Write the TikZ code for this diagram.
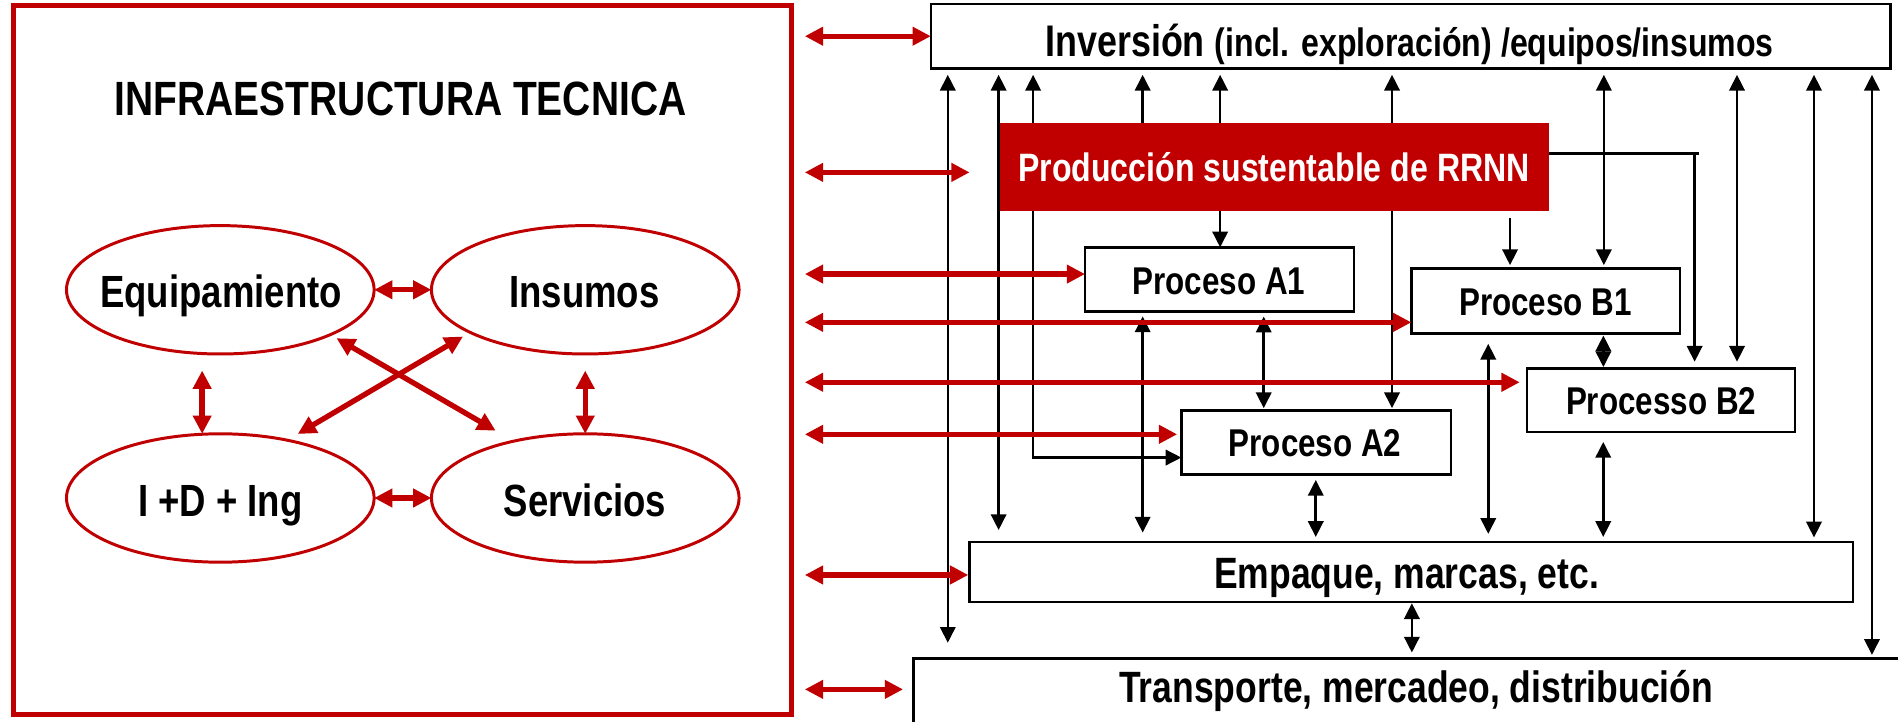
\documentclass[tikz,border=0pt]{standalone}
\usepackage{fontspec}
\setmainfont{Liberation Sans}
\newfontfamily\narrowf[FakeStretch=0.81]{Liberation Sans}
\usetikzlibrary{arrows.meta,shapes.geometric,fit,calc}
\definecolor{dred}{RGB}{192,0,0}
\pgfdeclarelayer{bg}
\pgfsetlayers{bg,main}
\begin{document}
\begin{tikzpicture}[x=0.01cm,y=-0.01cm,
  every node/.style={outer sep=0pt},
  rbox/.style={draw=black,line width=0.6pt,fill=white,inner sep=0pt,rectangle},
  ell/.style={draw=dred,line width=0.7pt,ellipse,minimum width=2.54cm,minimum height=1.06cm,inner sep=0pt,fill=white},
  rarr/.style={draw=dred,line width=1.25pt,{Triangle[length=4.3pt,width=4.2pt]}-{Triangle[length=4.3pt,width=4.2pt]}},
  barr/.style={draw=black,line width=0.6pt,{Triangle[length=3.7pt,width=3.6pt]}-{Triangle[length=3.7pt,width=3.6pt]}},
  sarr/.style={draw=black,line width=0.6pt,-{Triangle[length=3.7pt,width=3.6pt]}},
  bline/.style={draw=black,line width=0.6pt},
  tTitle/.style={anchor=base,inner sep=0pt,font=\narrowf\bfseries\fontsize{11.3}{13}\selectfont},
  tEll/.style={anchor=base,inner sep=0pt,font=\narrowf\bfseries\fontsize{10.6}{12}\selectfont},
  tInv/.style={anchor=base,inner sep=0pt,font=\narrowf\bfseries\fontsize{10.4}{12}\selectfont},
  tProd/.style={anchor=base,inner sep=0pt,text=white,font=\narrowf\bfseries\fontsize{9.3}{11}\selectfont},
  tProc/.style={anchor=base,inner sep=0pt,font=\narrowf\bfseries\fontsize{9.1}{11}\selectfont},
  tWide/.style={anchor=base,inner sep=0pt,font=\narrowf\bfseries\fontsize{10.3}{12}\selectfont}
]
\useasboundingbox (0,0) rectangle (1568,596);
\clip (0,0) rectangle (1568,596);

% ---------- left panel ----------
\node[draw=dred,line width=1.2pt,inner sep=0pt,fit={(11.5,4.5) (654,590)}] (lbox) {};
\node[ell] (eq) at (182,239.4) {};
\node[ell] (ins) at (483.5,239.4) {};
\node[ell] (id) at (182,411.4) {};
\node[ell] (serv) at (483.5,411.4) {};

\node[tTitle] (ttl) at (331,95) {INFRAESTRUCTURA TECNICA};
\node[tEll] (teq) at (182.6,254.2) {Equipamiento};
\node[tEll] (tins) at (482.8,254.2) {Insumos};
\node[tEll] (tid) at (182,426.8) {I +D + Ing};
\node[tEll] (tserv) at (483.3,426.8) {Servicios};

% ---------- right boxes ----------
\node[rbox, fit={(769,3.3) (1562,56.5)}] (inv) {};
\node[fill=dred, inner sep=0pt, fit={(826,101.3) (1280,174)}] (prod) {};
\node[rbox, fit={(896.4,204.3) (1118.5,257.5)}] (a1) {};
\node[rbox, fit={(1166,222) (1388,275.4)}] (b1) {};
\node[rbox, fit={(1261.5,304.3) (1483,357)}] (b2) {};
\node[rbox, fit={(976,339.3) (1198.7,391.9)}] (a2) {};
\node[rbox, fit={(801,447.7) (1531,497.3)}] (emp) {};
\node[rbox, fit={(754.5,544) (1620,660)}] (trans) {};

\node[tInv] (tinv) at (1164.5,46.8) {Inversión {\fontsize{9.3}{11}\selectfont (incl. exploración) /equipos/insumos}};
\node[tProd] (tprod) at (1052.5,150.1) {Producción sustentable de RRNN};
\node[tProc] (ta1) at (1007,243.2) {Proceso A1};
\node[tProc] (tb1) at (1276.8,261) {Proceso B1};
\node[tProc] (tb2) at (1372.3,342.8) {Processo B2};
\node[tProc] (ta2) at (1086.4,377) {Proceso A2};
\node[tWide] (temp) at (1162,486) {Empaque, marcas, etc.};
\node[tWide] (ttrans) at (1170,580) {Transporte, mercadeo, distribución};

% ---------- black connectors (behind boxes) ----------
\coordinate (a2in) at (976,378);
\coordinate (elb) at (1400,127);
\begin{pgfonlayer}{bg}
\draw[barr, shorten <=1.5pt, shorten >=3.7pt] (783,0 |- inv.south) -- (783,0 |- trans.north);
\draw[barr, shorten <=1.5pt, shorten >=2.8pt] (825,0 |- inv.south) -- (825,0 |- emp.north);
\draw[barr, shorten <=1.5pt] (853.5,0 |- inv.south) |- (a2in);
\draw[sarr, shorten >=1.5pt] (944,0 |- prod.north) -- (944,0 |- inv.south);
\draw[barr, shorten <=1.1pt, shorten >=2.2pt] (944,0 |- a1.south) -- (944,0 |- emp.north);
\draw[barr, shorten <=1.5pt] (1008,0 |- inv.south) -- (1008,0 |- a1.north);
\draw[barr, shorten <=1.15pt, shorten >=0.6pt] (1044,0 |- a1.south) -- (1044,0 |- a2.north);
\draw[barr, shorten <=1.5pt, shorten >=0.6pt] (1150,0 |- inv.south) -- (1150,0 |- a2.north);
\draw[sarr, shorten <=1.7pt, shorten >=0.85pt] (1247.5,0 |- prod.south) -- (1247.5,0 |- b1.north);
\draw[barr, shorten <=1.5pt, shorten >=0.85pt] (1325,0 |- inv.south) -- (1325,0 |- b1.north);
\draw[bline] (prod.east |- elb) -- ([xshift=1.1pt]elb);
\draw[sarr, shorten >=1.56pt] (elb) -- (elb |- b2.north);
\draw[barr, shorten <=1.5pt, shorten >=1.56pt] (1435,0 |- inv.south) -- (1435,0 |- b2.north);
\draw[barr, shorten <=1.5pt, shorten >=1.05pt] (1498.6,0 |- inv.south) -- (1498.6,0 |- emp.north);
\draw[barr, shorten <=1.5pt, shorten >=0.85pt] (1546.5,0 |- inv.south) -- (1546.5,0 |- trans.north);
\draw[barr, shorten <=2.45pt, shorten >=1.9pt] (1229.5,0 |- b1.south) -- (1229.5,0 |- emp.north);
\draw[barr, shorten <=0.5pt, shorten >=0.3pt] (1324.6,0 |- b1.south) -- (1324.6,0 |- b2.north);
\draw[barr, shorten <=2.3pt, shorten >=1.17pt] (1324.5,0 |- b2.south) -- (1324.5,0 |- emp.north);
\draw[barr, shorten <=1.3pt, shorten >=1.17pt] (1087,0 |- a2.south) -- (1087,0 |- emp.north);
\draw[barr, shorten <=0.3pt, shorten >=1.4pt] (1166.4,0 |- emp.south) -- (1166.4,0 |- trans.north);
\end{pgfonlayer}

% ---------- red connectors, left panel ----------
\draw[rarr] (eq.east) -- (ins.west);
\draw[rarr] (id.east) -- (serv.west);
\draw[rarr, shorten <=3.9pt] (167,0 |- eq.south) -- (167,0 |- id.north);
\draw[rarr, shorten <=3.9pt] (483.5,0 |- ins.south) -- (serv.north);
\draw[rarr] ($(eq.center)+(96,40)$) -- ($(serv.center)+(-74,-55.6)$);
\draw[rarr] ($(ins.center)+(-101,38.6)$) -- ($(id.center)+(64,-52.9)$);

% ---------- red connectors, left box to right side ----------
\coordinate (y2) at (0,142.4);
\coordinate (y3) at (0,226.4);
\coordinate (y4) at (0,266.3);
\coordinate (y5) at (0,315.8);
\coordinate (y6) at (0,358.8);
\coordinate (y7) at (0,475);
\coordinate (y8) at (0,569.5);
\draw[rarr, shorten <=3.1pt] (lbox.east |- inv.west) -- (inv.west);
\draw[rarr, shorten <=3.1pt, shorten >=7.1pt] (lbox.east |- y2) -- (prod.west |- y2);
\draw[rarr, shorten <=3.1pt] (lbox.east |- y3) -- (a1.west |- y3);
\draw[rarr, shorten <=3.1pt] (lbox.east |- y4) -- (b1.west |- y4);
\draw[rarr, shorten <=3.1pt, shorten >=1.7pt] (lbox.east |- y5) -- (b2.west |- y5);
\draw[rarr, shorten <=3.1pt, shorten >=1pt] (lbox.east |- y6) -- (a2.west |- y6);
\draw[rarr, shorten <=3.1pt, shorten >=0.3pt] (lbox.east |- y7) -- (emp.west |- y7);
\draw[rarr, shorten <=3.1pt, shorten >=2.4pt] (lbox.east |- y8) -- (trans.west |- y8);
\end{tikzpicture}
\end{document}
